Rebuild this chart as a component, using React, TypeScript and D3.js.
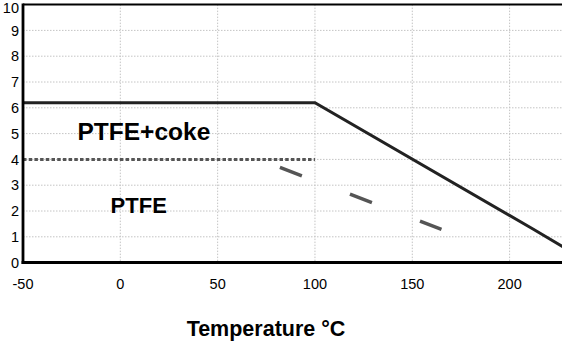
import React from "react";
import * as d3 from "d3";

const xTicks = [-50, 0, 50, 100, 150, 200];
const yTicks = [0, 1, 2, 3, 4, 5, 6, 7, 8, 9, 10];
const coke = [
  { t: -50, v: 6.2 },
  { t: 100, v: 6.2 },
  { t: 212, v: 1.3 },
  { t: 230, v: 0.5 },
];
const ptfeFlat = [
  { t: -50, v: 4.0 },
  { t: 100, v: 4.0 },
];
const ptfeSlope = [
  { t: 82, v: 3.69 },
  { t: 165, v: 1.29 },
];
const labels = [
  { text: "PTFE+coke", t: -22, v: 4.75, size: 24.5 },
  { text: "PTFE", t: -5, v: 1.93, size: 22 },
];
const xTitle = "Temperature °C";

export default function App() {
  const W = 562, H = 347;
  const x = d3.scaleLinear().domain([-50, 230]).range([23, 568]);
  const y = d3.scaleLinear().domain([0, 10]).range([262.6, 4.6]);
  const line = d3
    .line<{ t: number; v: number }>()
    .x((d) => x(d.t))
    .y((d) => y(d.v));
  const font = "'Liberation Sans', Arial, sans-serif";
  return (
    <svg
      width={W}
      height={H}
      style={{ position: "absolute", left: 0, top: 0, background: "#fff" }}
      fontFamily={font}
    >
      <rect x={0} y={0} width={W} height={H} fill="#fff" />
      {yTicks
        .filter((d) => d > 0 && d < 10)
        .map((d) => (
          <line
            key={"gy" + d}
            x1={x(-50)}
            x2={W}
            y1={y(d)}
            y2={y(d)}
            stroke="#c4c4c4"
            strokeWidth={1}
            strokeDasharray="1.5 1.5"
          />
        ))}
      {xTicks
        .filter((d) => d > -50)
        .map((d) => (
          <line
            key={"gx" + d}
            x1={x(d)}
            x2={x(d)}
            y1={y(10)}
            y2={y(0)}
            stroke="#c4c4c4"
            strokeWidth={1}
            strokeDasharray="1.5 1.5"
          />
        ))}
      <path
        d={line(ptfeFlat) || ""}
        fill="none"
        stroke="#555"
        strokeWidth={3}
        strokeDasharray="3.5 2.2"
      />
      <path
        d={line(ptfeSlope) || ""}
        fill="none"
        stroke="#555"
        strokeWidth={3.5}
        strokeDasharray="23.5 51.5"
      />
      <path d={line(coke) || ""} fill="none" stroke="#222" strokeWidth={3} />
      <line x1={x(-50)} x2={W + 5} y1={y(10)} y2={y(10)} stroke="#000" strokeWidth={2} />
      <line x1={x(-50)} x2={x(-50)} y1={y(10) - 1} y2={y(0) + 1.5} stroke="#000" strokeWidth={2.8} />
      <line x1={x(-50) - 1.4} x2={W + 5} y1={y(0)} y2={y(0)} stroke="#000" strokeWidth={3} />
      {yTicks.map((d) => (
        <text
          key={"ty" + d}
          x={19}
          y={Math.max(y(d), 8)}
          dy="0.36em"
          textAnchor="end"
          fontSize={14.5}
          fill="#000"
        >
          {d}
        </text>
      ))}
      {xTicks.map((d) => (
        <text
          key={"tx" + d}
          x={x(d)}
          y={288.5}
          textAnchor="middle"
          fontSize={14.5}
          fill="#000"
        >
          {d}
        </text>
      ))}
      {labels.map((l) => (
        <text
          key={l.text}
          x={x(l.t)}
          y={y(l.v)}
          fontSize={l.size}
          fontWeight="bold"
          fill="#000"
        >
          {l.text}
        </text>
      ))}
      <text x={266} y={336} textAnchor="middle" fontSize={21.5} fontWeight="bold" fill="#000">
        {xTitle}
      </text>
    </svg>
  );
}
